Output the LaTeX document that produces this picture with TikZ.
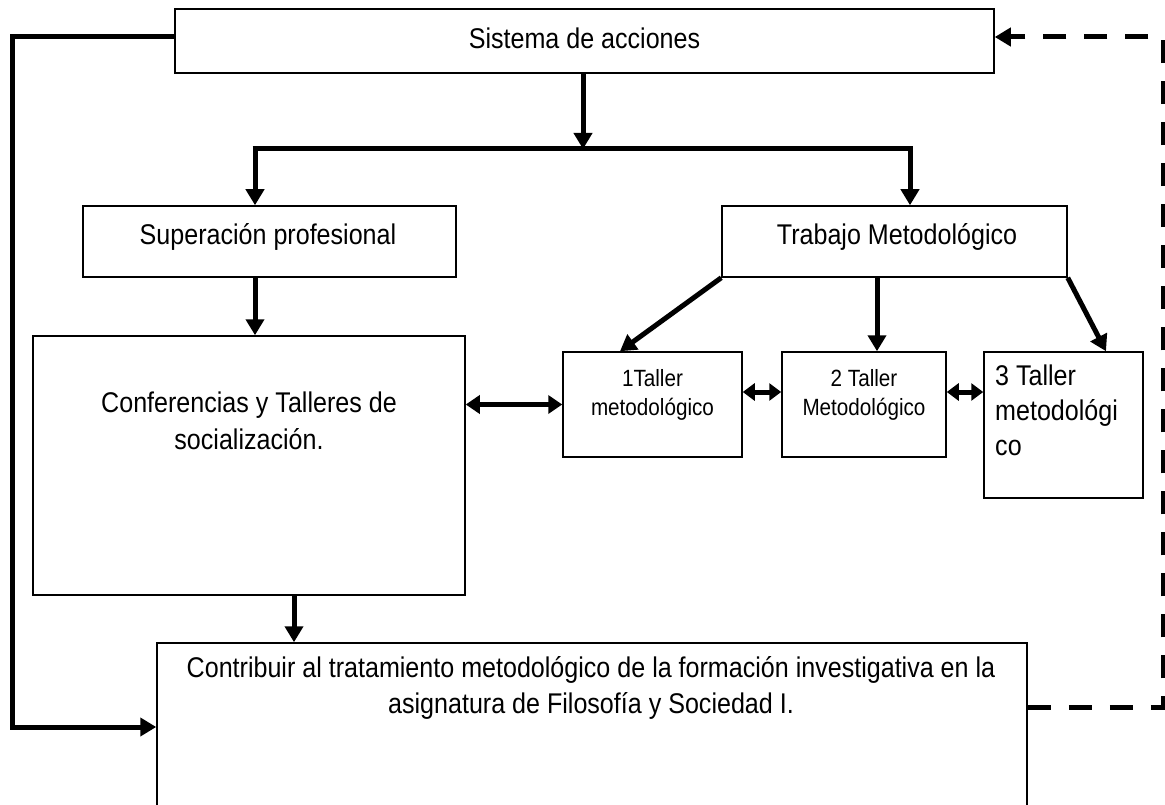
\documentclass[tikz,border=0pt]{standalone}
\usepackage{fontspec}
\setmainfont{Liberation Sans}[FakeStretch=0.88]
\usetikzlibrary{arrows.meta,calc}
\begin{document}
\begin{tikzpicture}[x=1pt,y=-1pt,
  box/.style={draw=black,line width=1.5pt,rectangle,inner sep=0pt},
  txt/.style={inner sep=0pt,align=center,font=\fontsize{28.5}{37}\selectfont},
  smalltxt/.style={inner sep=0pt,align=center,font=\fontsize{23.5}{29}\selectfont},
  conn/.style={line width=5pt},
  arr/.style={line width=5pt,-{Triangle[width=18pt,length=16pt]}},
  dbl/.style={line width=5pt,{Triangle[width=18pt,length=14pt]}-{Triangle[width=18pt,length=14pt]}},
  sdbl/.style={line width=5pt,{Triangle[width=17pt,length=12pt]}-{Triangle[width=17pt,length=12pt]}},
  dsh/.style={line width=5pt,dash pattern=on 23pt off 18pt,-{Triangle[width=18pt,length=16pt]}}
]
\clip (0,0) rectangle (1165,805);
\fill[white] (0,0) rectangle (1165,805);

% boxes
\node[box,minimum width=819pt,minimum height=64pt] (sis) at (584.5,41) {};
\node[txt] (sist) at (584.5,38) {Sistema de acciones};

\node[box,minimum width=373pt,minimum height=71pt] (sup) at (269.5,241.5) {};
\node[txt] (supt) at (268,237) {Superación profesional};

\node[box,minimum width=345pt,minimum height=71pt] (trab) at (894.5,241.5) {};
\node[txt] (trabt) at (897,237) {Trabajo Metodológico};

\node[box,minimum width=432pt,minimum height=259pt] (conf) at (249,465.5) {};
\node[txt] (conft) at (249,421) {Conferencias y Talleres de\\socialización.};

\node[box,minimum width=179pt,minimum height=105pt] (t1) at (652.5,404.5) {};
\node[smalltxt] (t1t) at (652.5,395) {1Taller\\metodológico};

\node[box,minimum width=164pt,minimum height=105pt] (t2) at (864,404.5) {};
\node[smalltxt] (t2t) at (864,395) {2 Taller\\Metodológico};

\node[box,minimum width=159pt,minimum height=146pt] (t3) at (1063.5,425) {};
\node[txt,align=left,anchor=west,font=\fontsize{28.5}{35}\selectfont] (t3t) at (995,410) {3 Taller\\metodológi\\co};

\node[box,minimum width=870pt,minimum height=180pt] (bot) at (592,733) {};
\node[txt,font=\fontsize{28.5}{36}\selectfont] (bott) at (591,688) {Contribuir al tratamiento metodológico de la formación investigativa en la\\asignatura de Filosofía y Sociedad I.};

% coordinates
\coordinate (split) at (583,149);
\coordinate (splitL) at (255,149);
\coordinate (splitR) at (910,149);
\coordinate (lftTop) at (12,37);
\coordinate (lftBot) at (12,727);
\coordinate (rgtBot) at (1163,707);
\coordinate (rgtTop) at (1163,37);

% connectors
\draw[arr] (sis.south -| split) -- (split);
\draw[conn] ([xshift=-2.5pt]splitL) -- ([xshift=2.5pt]splitR);
\draw[arr] ([yshift=2.5pt]splitL) -- (splitL |- sup.north);
\draw[arr] ([yshift=2.5pt]splitR) -- (splitR |- trab.north);

\draw[arr] (sup.south -| splitL) -- (splitL |- conf.north);

\draw[arr] (trab.south west) -- ([xshift=-32.5pt]t1.north);
\draw[arr] ([xshift=-17.5pt]trab.south) -- ([xshift=13pt]t2.north);
\draw[arr] (trab.south east) -- ([xshift=42.5pt]t3.north);

\draw[dbl] (t1.west -| conf.east) -- (t1.west);
\draw[sdbl] ([yshift=12.5pt]t1.east) -- ([yshift=12.5pt]t2.west);
\draw[sdbl] ([yshift=12.5pt]t2.east) -- ([yshift=12.5pt]t2.east -| t3.west);

\draw[arr] ([xshift=45pt]conf.south) -- ([xshift=45pt]conf.south |- bot.north);

\draw[arr,line join=miter] (sis.west |- lftTop) -- (lftTop) -- (lftBot) -- (lftBot -| bot.west);
\draw[dsh,line join=miter] (rgtBot -| bot.east) -- (rgtBot) -- (rgtTop) -- (rgtTop -| sis.east);
\end{tikzpicture}
\end{document}
